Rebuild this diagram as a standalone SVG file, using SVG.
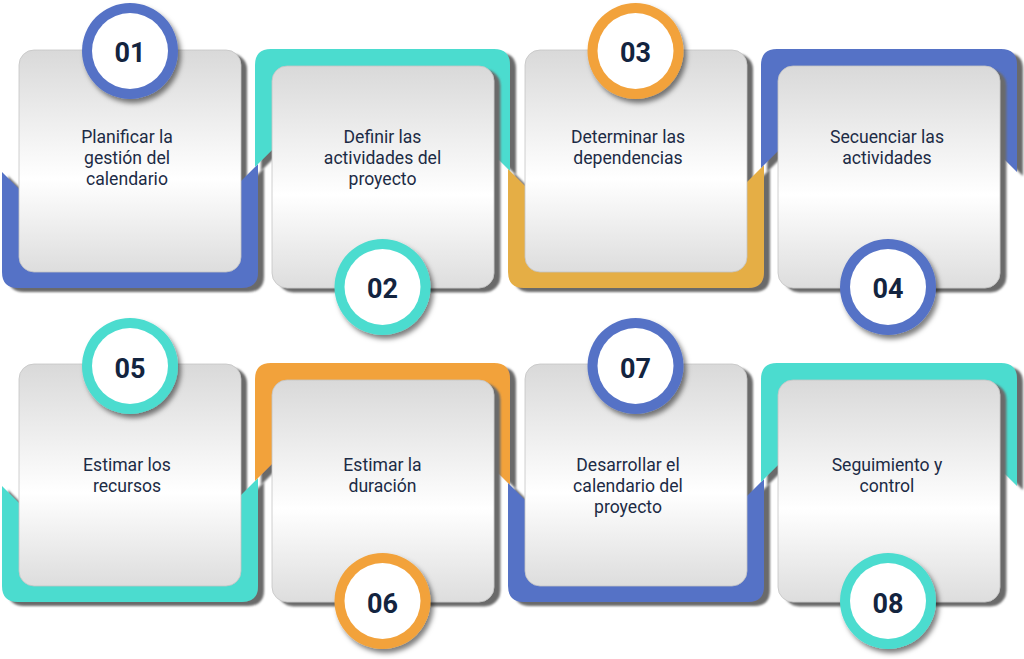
<svg xmlns="http://www.w3.org/2000/svg" width="1024" height="659" viewBox="0 0 1024 659">
<defs>
<linearGradient id="cardGrad" x1="0" y1="0" x2="0" y2="1">
<stop offset="0" stop-color="#d9d9d9"/>
<stop offset="0.58" stop-color="#ffffff"/>
<stop offset="1" stop-color="#dddddd"/>
</linearGradient>
<filter id="sh" x="-10%" y="-10%" width="125%" height="125%">
<feDropShadow dx="6" dy="4" stdDeviation="0.8" flood-color="#6a6a6a" flood-opacity="1"/>
</filter>
<filter id="blur" x="-10%" y="-10%" width="125%" height="125%">
<feGaussianBlur stdDeviation="0.8"/>
</filter>
<filter id="csh" x="-30%" y="-30%" width="170%" height="170%">
<feDropShadow dx="3" dy="4" stdDeviation="2.5" flood-color="#000" flood-opacity="0.5"/>
</filter>
</defs>
<style>
.blue{fill:#5572c6}
.teal{fill:#4bdccf}
.orange{fill:#f2a23a}
.mustard{fill:#e5ae45}
.card{fill:url(#cardGrad);stroke:#c4c4c4;stroke-width:0.8}
.cs{fill:#6a6a6a}
.inner{fill:#ffffff}
.num{font-family:Roboto,"Liberation Sans",sans-serif;font-weight:700;font-size:27px;fill:#13243f;text-anchor:middle}
.lbl{font-family:Roboto,"Liberation Sans",sans-serif;font-size:17.6px;fill:#1c2b45;text-anchor:middle}
</style>
<rect width="1024" height="659" fill="#ffffff"/>
<g id="connectors"></g>

<g id="node-01">
<rect class="cs" filter="url(#blur)" x="25" y="54" width="222" height="222" rx="15"/>
<path class="blue" filter="url(#sh)" d="M2,172 L19,189 L241,181 L258,164 L258,272 Q258,288 242,288 L18,288 Q2,288 2,272 Z"/>
<rect class="card" x="19" y="50" width="222" height="222" rx="15"/>
<circle class="blue" filter="url(#csh)" cx="130" cy="51" r="48"/>
<circle class="inner" cx="130" cy="51" r="38"/>
<text class="num" x="130" y="62">01</text>
<text class="lbl" x="127" y="143">Planificar la</text>
<text class="lbl" x="127" y="164">gestión del</text>
<text class="lbl" x="127" y="185">calendario</text>
</g>

<g id="node-02">
<path class="teal" filter="url(#sh)" d="M255,167 L255,65 Q255,49 271,49 L494,49 Q510,49 510,65 L510,171 L494,155 L272,150 Z"/>
<rect class="card" filter="url(#sh)" x="272" y="66" width="222" height="222" rx="15"/>
<circle class="teal" filter="url(#csh)" cx="382.5" cy="287" r="48"/>
<circle class="inner" cx="382.5" cy="287" r="38"/>
<text class="num" x="382.5" y="298">02</text>
<text class="lbl" x="382.5" y="143">Definir las</text>
<text class="lbl" x="382.5" y="164">actividades del</text>
<text class="lbl" x="382.5" y="185">proyecto</text>
</g>

<g id="node-03">
<rect class="cs" filter="url(#blur)" x="531" y="54" width="222" height="222" rx="15"/>
<path class="mustard" filter="url(#sh)" d="M508,169 L525,186 L747,182 L764,165 L764,272 Q764,288 748,288 L524,288 Q508,288 508,272 Z"/>
<rect class="card" x="525" y="50" width="222" height="222" rx="15"/>
<circle class="orange" filter="url(#csh)" cx="635.5" cy="51" r="48"/>
<circle class="inner" cx="635.5" cy="51" r="38"/>
<text class="num" x="635.5" y="62">03</text>
<text class="lbl" x="628" y="143">Determinar las</text>
<text class="lbl" x="628" y="164">dependencias</text>
</g>

<g id="node-04">
<path class="blue" filter="url(#sh)" d="M761,168 L761,65 Q761,49 777,49 L1001,49 Q1017,49 1017,65 L1017,172 L1000,155 L778,151 Z"/>
<rect class="card" filter="url(#sh)" x="778" y="66" width="222" height="222" rx="15"/>
<circle class="blue" filter="url(#csh)" cx="888" cy="287" r="48"/>
<circle class="inner" cx="888" cy="287" r="38"/>
<text class="num" x="888" y="298">04</text>
<text class="lbl" x="887" y="143">Secuenciar las</text>
<text class="lbl" x="887" y="164">actividades</text>
</g>

<g id="node-05">
<rect class="cs" filter="url(#blur)" x="25" y="368" width="222" height="222" rx="15"/>
<path class="teal" filter="url(#sh)" d="M2,486 L19,503 L241,495 L258,478 L258,586 Q258,602 242,602 L18,602 Q2,602 2,586 Z"/>
<rect class="card" x="19" y="364" width="222" height="222" rx="15"/>
<circle class="teal" filter="url(#csh)" cx="130" cy="366" r="48"/>
<circle class="inner" cx="130" cy="366" r="38"/>
<text class="num" x="130" y="378">05</text>
<text class="lbl" x="127" y="471">Estimar los</text>
<text class="lbl" x="127" y="492">recursos</text>
</g>

<g id="node-06">
<path class="orange" filter="url(#sh)" d="M255,481 L255,379 Q255,363 271,363 L494,363 Q510,363 510,379 L510,485 L494,469 L272,464 Z"/>
<rect class="card" filter="url(#sh)" x="272" y="380" width="222" height="222" rx="15"/>
<circle class="orange" filter="url(#csh)" cx="382.5" cy="601" r="48"/>
<circle class="inner" cx="382.5" cy="601" r="38"/>
<text class="num" x="382.5" y="613">06</text>
<text class="lbl" x="382.5" y="471">Estimar la</text>
<text class="lbl" x="382.5" y="492">duración</text>
</g>

<g id="node-07">
<rect class="cs" filter="url(#blur)" x="531" y="368" width="222" height="222" rx="15"/>
<path class="blue" filter="url(#sh)" d="M508,483 L525,500 L747,496 L764,479 L764,586 Q764,602 748,602 L524,602 Q508,602 508,586 Z"/>
<rect class="card" x="525" y="364" width="222" height="222" rx="15"/>
<circle class="blue" filter="url(#csh)" cx="635.5" cy="366" r="48"/>
<circle class="inner" cx="635.5" cy="366" r="38"/>
<text class="num" x="635.5" y="378">07</text>
<text class="lbl" x="628" y="471">Desarrollar el</text>
<text class="lbl" x="628" y="492">calendario del</text>
<text class="lbl" x="628" y="513">proyecto</text>
</g>

<g id="node-08">
<path class="teal" filter="url(#sh)" d="M761,482 L761,379 Q761,363 777,363 L1001,363 Q1017,363 1017,379 L1017,486 L1000,469 L778,465 Z"/>
<rect class="card" filter="url(#sh)" x="778" y="380" width="222" height="222" rx="15"/>
<circle class="teal" filter="url(#csh)" cx="888" cy="601" r="48"/>
<circle class="inner" cx="888" cy="601" r="38"/>
<text class="num" x="888" y="613">08</text>
<text class="lbl" x="887" y="471">Seguimiento y</text>
<text class="lbl" x="887" y="492">control</text>
</g>
</svg>
